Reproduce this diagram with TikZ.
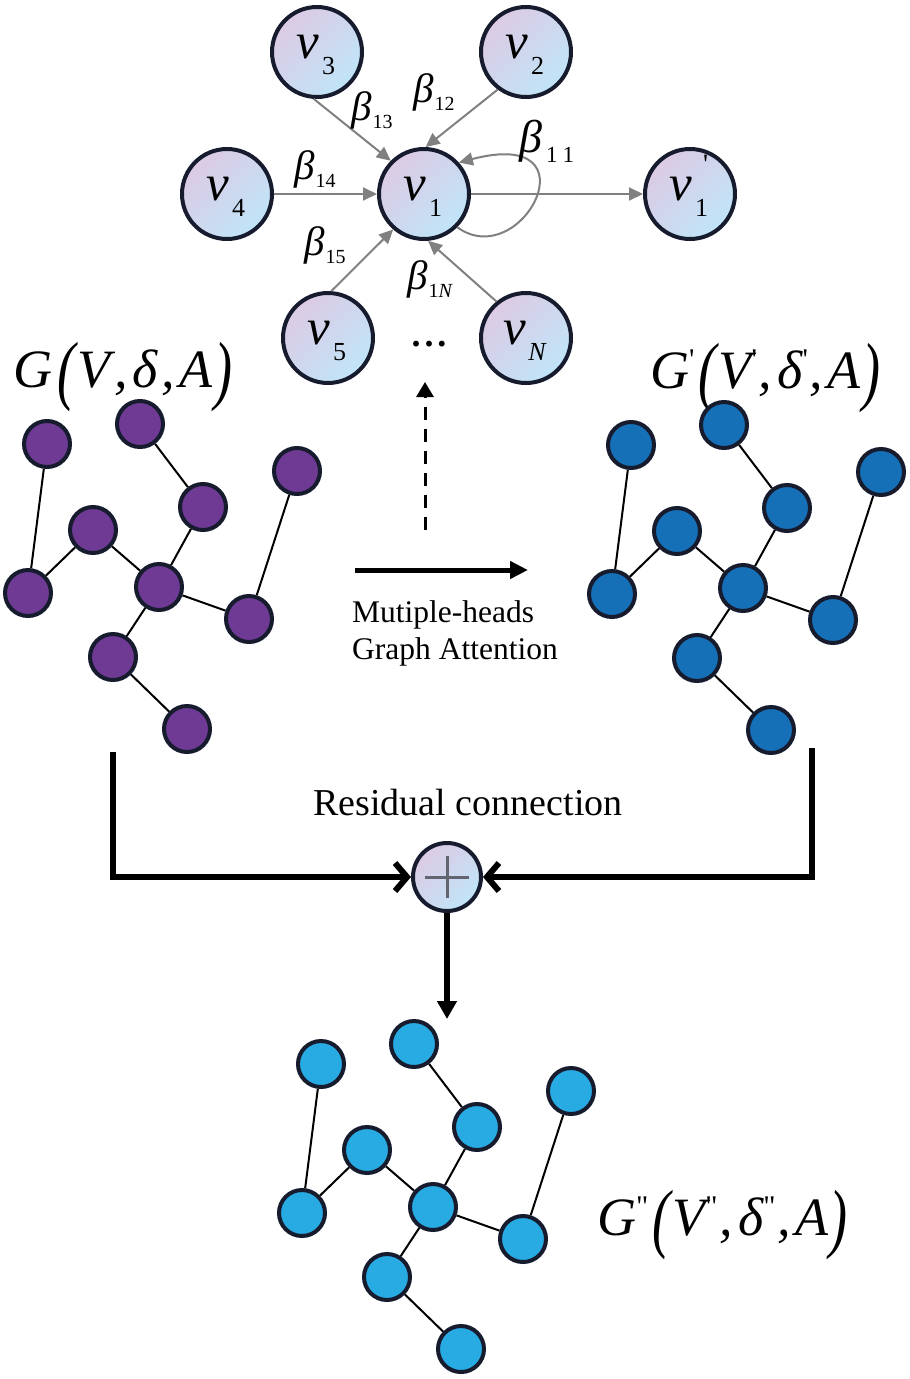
\documentclass[tikz,border=0pt]{standalone}
\usepackage{fontspec}
\setmainfont{Liberation Serif}
\usepackage{graphicx}
\usetikzlibrary{arrows.meta,calc}
\definecolor{nodeedge}{HTML}{161B2E}
\definecolor{lilac}{HTML}{DCCAE4}
\definecolor{skyb}{HTML}{C0E5F8}
\definecolor{purp}{HTML}{6E3A93}
\definecolor{blu}{HTML}{1570B8}
\definecolor{lblu}{HTML}{28ABE2}
\definecolor{garrow}{HTML}{808080}
\definecolor{plusc}{HTML}{62646F}
\newcommand\vlab[1]{{\fontsize{51}{51}\selectfont\itshape v}\kern2.5pt\raisebox{-16pt}{\fontsize{26}{26}\selectfont #1}}
\newcommand\blab[1]{{\fontsize{41}{41}\selectfont\itshape β}\kern1pt\raisebox{-8pt}{\fontsize{20}{20}\selectfont #1}}
\newcommand\bigpar[1]{\raisebox{-8pt}{\scalebox{1}[1.42]{#1}}}
\newcommand\prm{\raisebox{19pt}{\fontsize{30}{30}\selectfont\upshape\textquotesingle}}
\newcommand\dprm{\raisebox{19pt}{\fontsize{30}{30}\selectfont\upshape\textquotedbl}}
\newcommand\smallgraph[4]{%
  \foreach \n/\x/\y in {1/47/444,2/140/424,3/203/507,4/297/471,5/93/530,6/28/593,7/159/587,8/249/619,9/113/657,10/187/729}
    \node[gn,fill=#3] (#4\n) at ({\x+#1},{\y+#2}) {};
  \foreach \a/\b in {1/6,2/3,5/6,5/7,3/7,7/8,7/9,9/10,4/8}
    \draw[gedge] (#4\a) -- (#4\b);
}
\begin{document}
\begin{tikzpicture}[x=1pt,y=-1pt,
  gn/.style={circle,draw=nodeedge,line width=4pt,minimum size=46pt,inner sep=0pt},
  gedge/.style={black,line width=2pt},
  an/.style={circle,draw=nodeedge,line width=4pt,minimum size=90pt,inner sep=0pt,
     top color=lilac,bottom color=skyb,shading angle=45},
  lbl/.style={inner sep=0pt,anchor=base},
  blbl/.style={inner sep=0pt,anchor=base west},
  garr/.style={draw=garrow,line width=2pt,-{Triangle[length=14pt,width=13pt]}},
  resid/.style={black,line width=6pt,-{Straight Barb[length=12pt,width=28pt]}},
  txt/.style={inner sep=0pt,anchor=base west,font=\fontsize{31.5}{31.5}\selectfont}
]
\useasboundingbox (0,0) rectangle (910,1379);

% attention nodes
\node[an] (v3) at (317,52) {};
\node[an] (v2) at (526,52) {};
\node[an] (v4) at (227,194) {};
\node[an] (v1) at (424,194) {};
\node[an] (v1p) at (690,194) {};
\node[an] (v5) at (328,338) {};
\node[an] (vN) at (526,338) {};

\node[lbl] (t3) at (316,58) {\vlab{3}};
\node[lbl] (t2) at (525,58) {\vlab{2}};
\node[lbl] (t4) at (226,200) {\vlab{4}};
\node[lbl] (t1) at (423,200) {\vlab{1}};
\node[lbl] (t1p) at (689,200) {{\fontsize{51}{51}\selectfont\itshape v}\kern2.5pt\raisebox{-16pt}{\fontsize{26}{26}\selectfont 1}\llap{\raisebox{27pt}{\fontsize{28}{28}\selectfont\textquotesingle}}};
\node[lbl] (t5) at (327,344) {\vlab{5}};
\node[lbl] (tN) at (525,344) {\vlab{\textit{N}}};

% gray arrows
\draw[garr] (v3.266) -- (v1.135);
\draw[garr] (v2.233) -- (v1.88);
\draw[garr] (v4.east) -- (v1.west);
\draw[garr] (v5.86) -- (v1.229);
\draw[garr] (vN.129) -- (v1.275);
\draw[garr] (v1.east) -- (v1p.west);
\draw[garr] (v1.-45) .. controls (522,274) and (598,126) .. (v1.42);

% beta labels
\node[blbl] (b12) at (413,102) {\blab{12}};
\node[blbl] (b13) at (351,120) {\blab{13}};
\node[blbl] (b14) at (294,179) {\blab{14}};
\node[blbl] (b15) at (304,255) {\blab{15}};
\node[blbl] (b1N) at (407,289) {\blab{1\textit{N}}};
\node[blbl] (b11) at (519,152) {{\fontsize{46}{46}\selectfont\itshape β}\kern4pt\raisebox{-10pt}{\fontsize{23}{23}\selectfont 1\kern5pt1}};

\node[inner sep=0pt] (dots) at (429,344) {\fontsize{36}{36}\selectfont\textbf{.\kern4pt.\kern4pt.}};

% graph labels
\node[blbl] (gl) at (13,387) {\fontsize{54}{54}\selectfont\itshape G\kern5pt\bigpar{(}\kern2pt V\kern4pt,\kern5pt δ\kern4pt,\kern4pt A\kern2pt\bigpar{)}};
\node[blbl] (gr) at (650,388) {\fontsize{54}{54}\selectfont\itshape G\prm\kern4pt\bigpar{(}\kern2pt V\prm\kern2pt,\kern5pt δ\prm\kern2pt,\kern4pt A\kern2pt\bigpar{)}};
\node[blbl] (gb) at (597,1235) {\fontsize{54}{54}\selectfont\itshape G\dprm\kern4pt\bigpar{(}\kern2pt V\dprm\kern2pt,\kern5pt δ\dprm\kern2pt,\kern4pt A\kern2pt\bigpar{)}};

% small graphs
\smallgraph{0}{0}{purp}{a}
\smallgraph{584}{1}{blu}{b}
\smallgraph{274}{620}{lblu}{c}

% middle arrows
\coordinate (dbot) at (425,530);
\coordinate (dtop) at (425,382);
\draw[black,line width=3pt,dash pattern=on 13pt off 9pt,-{Triangle[length=15pt,width=17pt]}] (dbot) -- (dtop);
\coordinate (ha) at (355,570);
\coordinate (hb) at (528,570);
\draw[black,line width=5pt,-{Triangle[length=18pt,width=17pt]}] (ha) -- (hb);
\node[txt] (mh1) at (352,622) {Mutiple-heads};
\node[txt] (mh2) at (352,659) {Graph Attention};

% residual
\node[circle,draw=nodeedge,line width=4pt,minimum size=68pt,inner sep=0pt,
  top color=lilac,bottom color=skyb,shading angle=45] (plus) at (447,877) {};
\draw[plusc,line width=3pt] ($(plus)+(-22,0)$) -- ($(plus)+(22,0)$);
\draw[plusc,line width=3pt] ($(plus)+(0,-21)$) -- ($(plus)+(0,21)$);
\node[inner sep=0pt,anchor=base,font=\fontsize{38}{38}\selectfont] (rc) at (468,815) {Residual connection};
\coordinate (rl) at (113,752);
\coordinate (rr) at (812,748);
\draw[resid] (rl) |- (plus);
\draw[resid] (rr) |- (plus);
\draw[black,line width=6pt,-{Triangle[length=18pt,width=19pt]}] (plus) -- (c2.north -| plus);
\end{tikzpicture}
\end{document}
